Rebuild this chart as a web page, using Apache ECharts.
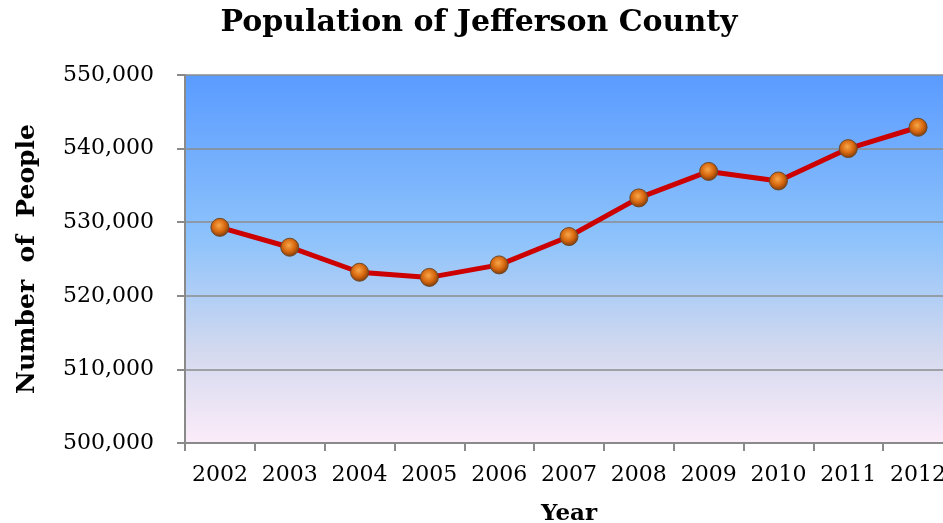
<!DOCTYPE html>
<html>
<head>
<meta charset="utf-8">
<script src="https://cdn.jsdelivr.net/npm/echarts@6/dist/echarts.min.js"></script>
<style>
html,body{margin:0;padding:0;background:#fff;}
#chart{width:943px;height:523px;}
</style>
</head>
<body>
<div id="chart"></div>
<script>
const years = ['2002','2003','2004','2005','2006','2007','2008','2009','2010','2011','2012'];
const population = [529300, 526600, 523200, 522500, 524200, 528050, 533300, 536900, 535600, 540000, 542900];
const yMin = 500000, yMax = 550000, yStep = 10000;

const chart = echarts.init(document.getElementById('chart'));
const serif = '"DejaVu Serif", "Liberation Serif", serif';
chart.setOption({
  animation: false,
  backgroundColor: '#ffffff',
  title: {
    text: 'Population of Jefferson County',
    left: 474, top: 3, textAlign: 'center',
    textStyle: {fontFamily: serif, fontWeight: 'bold', fontSize: 30, color: '#000'}
  },
  grid: {
    left: 185, top: 75, width: 768, height: 368,
    outerBoundsMode: 'none', containLabel: false,
    show: true, borderWidth: 0,
    backgroundColor: {
      type: 'linear', x: 0, y: 0, x2: 0, y2: 1,
      colorStops: [
        {offset: 0, color: '#5a9bff'},
        {offset: 0.45, color: '#8ec3fb'},
        {offset: 0.75, color: '#d3d9ef'},
        {offset: 1, color: '#fcecf9'}
      ]
    }
  },
  xAxis: {
    type: 'category', data: years, boundaryGap: true,
    name: 'Year', nameLocation: 'middle', nameGap: 60,
    nameTextStyle: {fontFamily: serif, fontWeight: 'bold', fontSize: 23, color: '#000'},
    axisLine: {lineStyle: {color: '#8a8a8a', width: 2}},
    axisTick: {show: true, length: 8, lineStyle: {color: '#8a8a8a', width: 2}, alignWithLabel: false},
    axisLabel: {fontFamily: serif, fontSize: 22, color: '#000', margin: 21, interval: 0}
  },
  yAxis: {
    type: 'value', min: yMin, max: yMax, interval: yStep,
    name: 'Number  of  People', nameLocation: 'middle', nameGap: 145, nameRotate: 90,
    nameTextStyle: {fontFamily: serif, fontWeight: 'bold', fontSize: 25, color: '#000'},
    axisLine: {show: true, lineStyle: {color: '#8a8a8a', width: 2}},
    axisTick: {show: true, length: 8, lineStyle: {color: '#8a8a8a', width: 2}},
    splitLine: {show: true, lineStyle: {color: '#8c8c8c', width: 1.5}},
    axisLabel: {
      fontFamily: serif, fontSize: 22, color: '#000', margin: 31,
      formatter: v => v.toLocaleString('en-US')
    }
  },
  series: [{
    type: 'line', data: population,
    lineStyle: {color: '#cc0000', width: 5},
    symbol: 'circle', symbolSize: 18,
    itemStyle: {
      color: {
        type: 'radial', x: 0.45, y: 0.4, r: 0.6,
        colorStops: [
          {offset: 0, color: '#f7a64a'},
          {offset: 0.55, color: '#d8680f'},
          {offset: 1, color: '#7a3a0c'}
        ]
      },
      borderColor: '#6b4a2a', borderWidth: 1, opacity: 1
    },
    emphasis: {disabled: true}
  }]
});
</script>
</body>
</html>
